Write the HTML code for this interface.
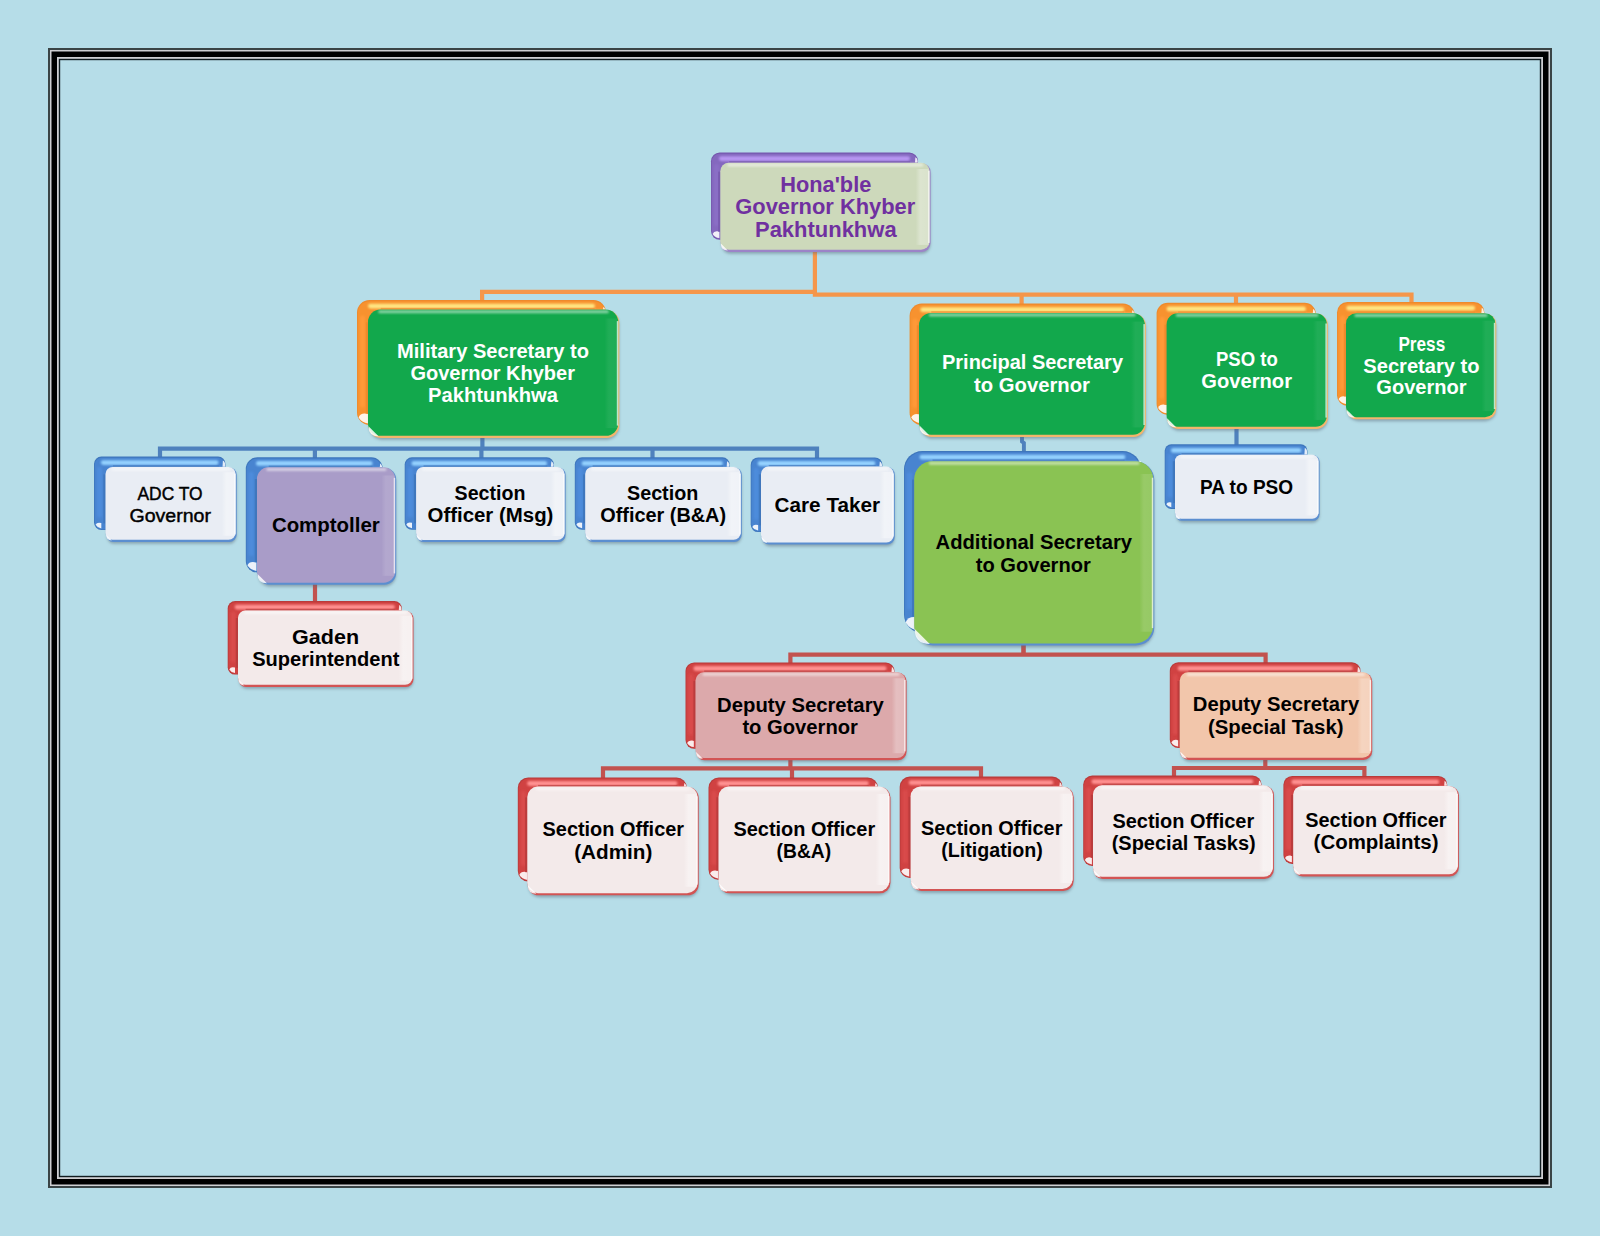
<!DOCTYPE html>
<html lang="en"><head><meta charset="utf-8"><title>Organogram - Governor Secretariat Khyber Pakhtunkhwa</title>
<style>html,body{margin:0;padding:0;background:#B6DDE8}body{width:1600px;height:1236px;overflow:hidden}svg{display:block}text{font-family:"Liberation Sans",sans-serif}</style></head><body>
<svg width="1600" height="1236" viewBox="0 0 1600 1236">
<defs>
<filter id="b1" x="-20%" y="-50%" width="140%" height="200%"><feGaussianBlur stdDeviation="0.8"/></filter>
<filter id="b2" x="-20%" y="-20%" width="140%" height="140%"><feGaussianBlur stdDeviation="1.6"/></filter>
<filter id="b3" x="-50%" y="-50%" width="200%" height="200%"><feGaussianBlur stdDeviation="0.6"/></filter>
<linearGradient id="rhi" x1="0" x2="1" y1="0" y2="0"><stop offset="0" stop-color="#fff" stop-opacity="0"/><stop offset="0.35" stop-color="#fff" stop-opacity="1"/><stop offset="1" stop-color="#fff" stop-opacity="0.85"/></linearGradient>
</defs>
<rect width="1600" height="1236" fill="#B6DDE8"/>
<rect x="48.0" y="48.0" width="1504.0" height="1140.0" fill="#3a4446"/>
<rect x="50.0" y="50.0" width="1500.0" height="1136.0" fill="#cfcfd2"/>
<rect x="51.5" y="51.5" width="1497.0" height="1133.0" fill="#000000"/>
<rect x="57.0" y="57.0" width="1486.0" height="1122.0" fill="#cfcfd2"/>
<rect x="58.8" y="58.8" width="1482.4" height="1118.4" fill="#101c20"/>
<rect x="60.2" y="60.2" width="1479.6" height="1115.6" fill="#B6DDE8"/>
<path d="M482.1 301.0 L482.1 291.8 L814.9 291.8" fill="none" stroke="#F5964A" stroke-width="4.2" stroke-linejoin="miter"/>
<path d="M814.9 250.0 L814.9 294.7 L1411.5 294.7 L1411.5 304.0" fill="none" stroke="#F5964A" stroke-width="4.2" stroke-linejoin="miter"/>
<path d="M1021.6 295.0 L1021.6 305.0" fill="none" stroke="#F5964A" stroke-width="4.2" stroke-linejoin="miter"/>
<path d="M1236.0 295.0 L1236.0 304.0" fill="none" stroke="#F5964A" stroke-width="4.2" stroke-linejoin="miter"/>
<path d="M482.4 436.0 L482.4 448.0" fill="none" stroke="#4F81BD" stroke-width="4.2" stroke-linejoin="miter"/>
<path d="M160.0 458.0 L160.0 448.6 L817.0 448.6 L817.0 458.0" fill="none" stroke="#4F81BD" stroke-width="4.2" stroke-linejoin="miter"/>
<path d="M314.9 448.0 L314.9 458.0" fill="none" stroke="#4F81BD" stroke-width="4.2" stroke-linejoin="miter"/>
<path d="M481.4 448.0 L481.4 458.0" fill="none" stroke="#4F81BD" stroke-width="4.2" stroke-linejoin="miter"/>
<path d="M652.5 448.0 L652.5 458.0" fill="none" stroke="#4F81BD" stroke-width="4.2" stroke-linejoin="miter"/>
<path d="M1022.0 435.0 L1022.0 441.5 L1023.9 443.0 L1023.9 452.0" fill="none" stroke="#4F81BD" stroke-width="3.9" stroke-linejoin="miter"/>
<path d="M1236.5 427.0 L1236.5 446.0" fill="none" stroke="#4F81BD" stroke-width="4.2" stroke-linejoin="miter"/>
<path d="M315.0 583.0 L315.0 602.0" fill="none" stroke="#C2524F" stroke-width="4.2" stroke-linejoin="miter"/>
<path d="M1023.5 644.0 L1023.5 654.6" fill="none" stroke="#C2524F" stroke-width="4.6" stroke-linejoin="miter"/>
<path d="M790.4 663.0 L790.4 654.6 L1265.6 654.6 L1265.6 663.0" fill="none" stroke="#C2524F" stroke-width="4.2" stroke-linejoin="miter"/>
<path d="M790.4 758.0 L790.4 768.0" fill="none" stroke="#C2524F" stroke-width="4.2" stroke-linejoin="miter"/>
<path d="M603.0 778.0 L603.0 768.4 L981.0 768.4 L981.0 778.0" fill="none" stroke="#C2524F" stroke-width="4.2" stroke-linejoin="miter"/>
<path d="M792.0 768.0 L792.0 778.0" fill="none" stroke="#C2524F" stroke-width="4.2" stroke-linejoin="miter"/>
<path d="M1265.3 758.0 L1265.3 768.0" fill="none" stroke="#C2524F" stroke-width="4.2" stroke-linejoin="miter"/>
<path d="M1174.0 777.0 L1174.0 768.0 L1364.4 768.0 L1364.4 777.0" fill="none" stroke="#C2524F" stroke-width="4.2" stroke-linejoin="miter"/>
<g>
<rect x="711.0" y="152.5" width="207.0" height="87.2" rx="8.7" fill="#7658AE"/>
<rect x="711.8" y="153.7" width="205.4" height="85.2" rx="8.2" fill="#8468BE"/>
<rect x="714.0" y="164.2" width="5" height="61.8" rx="2" fill="#8A6EC6" filter="url(#b1)"/>
<rect x="719.0" y="156.2" width="191.0" height="4.8" rx="2.4" fill="#B896F2" filter="url(#b1)"/>
<path d="M712.6 233.9 Q713.6 231.3 716.7 231.3 L719.4 231.6 L719.4 238.1 Q714.6 237.3 712.6 233.9 Z" fill="#fff" opacity="0.9" filter="url(#b3)"/>
<path d="M915.0 162.6 L917.6 162.6 L917.6 160.8 Q917.0 157.7 915.4 157.3 Z" fill="#fff" opacity="0.85" filter="url(#b3)"/>
<rect x="718.1" y="171.6" width="2.4" height="60.2" fill="#7658AE" opacity="0.8" filter="url(#b3)"/>
<rect x="729.1" y="161.1" width="181.0" height="1.8" fill="#7658AE" opacity="0.7" filter="url(#b3)"/>
<rect x="721.8" y="165.8" width="208.5" height="88.0" rx="8.8" fill="#5a6a78" opacity="0.5" filter="url(#b2)"/>
<rect x="720.7" y="163.2" width="209.9" height="88.7" rx="8.8" fill="#9C84C8"/>
<rect x="720.3" y="162.8" width="209.2" height="87.0" rx="8.5" fill="#CDD9BB"/>
<rect x="727.4" y="163.4" width="195.9" height="3" rx="1.5" fill="#fff" opacity="0.5" filter="url(#b1)"/>
<rect x="915.7" y="169.0" width="13" height="75.9" fill="url(#rhi)" opacity="0.30"/>
<rect x="928.1" y="170.7" width="1.5" height="72.3" fill="#fff" opacity="0.7" filter="url(#b3)"/>
<path d="M720.8 243.5 Q720.8 250.4 727.8 250.4 Z" fill="#fff" opacity="0.85" filter="url(#b3)"/>
<text x="780.3" y="191.5" font-size="22.0" font-weight="bold" fill="#7030A0" textLength="91.0" lengthAdjust="spacingAndGlyphs">Hona'ble</text>
<text x="735.3" y="214.1" font-size="22.0" font-weight="bold" fill="#7030A0" textLength="180.0" lengthAdjust="spacingAndGlyphs">Governor Khyber</text>
<text x="755.0" y="237.4" font-size="22.0" font-weight="bold" fill="#7030A0" textLength="141.6" lengthAdjust="spacingAndGlyphs">Pakhtunkhwa</text>
</g>
<g>
<rect x="357.0" y="300.0" width="249.0" height="125.0" rx="12.5" fill="#EE8A2C"/>
<rect x="357.8" y="301.2" width="247.4" height="123.0" rx="12.0" fill="#F7922F"/>
<rect x="360.0" y="315.5" width="5" height="92.0" rx="2" fill="#FF9A38" filter="url(#b1)"/>
<rect x="368.0" y="303.7" width="227.0" height="4.8" rx="2.4" fill="#FFE682" filter="url(#b1)"/>
<path d="M358.6 417.4 Q360.1 413.6 364.5 413.6 L368.4 414.1 L368.4 423.4 Q361.5 422.2 358.6 417.4 Z" fill="#fff" opacity="0.9" filter="url(#b3)"/>
<path d="M603.0 309.4 L605.6 309.4 L605.6 311.9 Q605.0 307.5 603.4 306.9 Z" fill="#fff" opacity="0.85" filter="url(#b3)"/>
<rect x="365.8" y="322.3" width="2.4" height="91.4" fill="#EE8A2C" opacity="0.8" filter="url(#b3)"/>
<rect x="380.7" y="307.9" width="214.0" height="1.8" fill="#EE8A2C" opacity="0.7" filter="url(#b3)"/>
<rect x="369.5" y="312.6" width="249.5" height="127.2" rx="12.7" fill="#5a6a78" opacity="0.5" filter="url(#b2)"/>
<rect x="368.4" y="310.0" width="250.9" height="127.9" rx="12.7" fill="#F3B56C"/>
<rect x="368.0" y="309.6" width="250.2" height="126.2" rx="12.4" fill="#12A84C"/>
<rect x="378.2" y="310.2" width="230.6" height="3" rx="1.5" fill="#fff" opacity="0.5" filter="url(#b1)"/>
<rect x="604.4" y="318.5" width="13" height="109.6" fill="url(#rhi)" opacity="0.06"/>
<rect x="616.8" y="321.1" width="1.5" height="104.5" fill="#fff" opacity="0.7" filter="url(#b3)"/>
<path d="M368.5 426.2 Q368.5 436.4 378.8 436.4 Z" fill="#fff" opacity="0.85" filter="url(#b3)"/>
<text x="397.0" y="358.0" font-size="20.3" font-weight="bold" fill="#fff" textLength="192.0" lengthAdjust="spacingAndGlyphs">Military Secretary to</text>
<text x="410.4" y="380.4" font-size="20.3" font-weight="bold" fill="#fff" textLength="164.6" lengthAdjust="spacingAndGlyphs">Governor Khyber</text>
<text x="428.0" y="402.4" font-size="20.3" font-weight="bold" fill="#fff" textLength="130.0" lengthAdjust="spacingAndGlyphs">Pakhtunkhwa</text>
</g>
<g>
<rect x="909.6" y="303.6" width="225.4" height="121.4" rx="12.1" fill="#EE8A2C"/>
<rect x="910.4" y="304.8" width="223.8" height="119.4" rx="11.6" fill="#F7922F"/>
<rect x="912.6" y="318.7" width="5" height="89.1" rx="2" fill="#FF9A38" filter="url(#b1)"/>
<rect x="920.3" y="307.3" width="204.0" height="4.8" rx="2.4" fill="#FFE682" filter="url(#b1)"/>
<path d="M911.2 417.5 Q912.6 413.9 916.9 413.9 L920.7 414.4 L920.7 423.4 Q914.0 422.3 911.2 417.5 Z" fill="#fff" opacity="0.9" filter="url(#b3)"/>
<path d="M1132.0 312.8 L1134.6 312.8 L1134.6 315.1 Q1134.0 310.9 1132.4 310.3 Z" fill="#fff" opacity="0.85" filter="url(#b3)"/>
<rect x="916.8" y="325.3" width="2.4" height="88.8" fill="#EE8A2C" opacity="0.8" filter="url(#b3)"/>
<rect x="931.3" y="311.3" width="192.8" height="1.8" fill="#EE8A2C" opacity="0.7" filter="url(#b3)"/>
<rect x="920.5" y="316.0" width="225.1" height="122.8" rx="12.3" fill="#5a6a78" opacity="0.5" filter="url(#b2)"/>
<rect x="919.4" y="313.4" width="226.5" height="123.5" rx="12.3" fill="#F3B56C"/>
<rect x="919.0" y="313.0" width="225.8" height="121.8" rx="12.0" fill="#12A84C"/>
<rect x="928.8" y="313.6" width="206.9" height="3" rx="1.5" fill="#fff" opacity="0.5" filter="url(#b1)"/>
<rect x="1131.0" y="321.6" width="13" height="105.8" fill="url(#rhi)" opacity="0.06"/>
<rect x="1143.4" y="324.1" width="1.5" height="100.9" fill="#fff" opacity="0.7" filter="url(#b3)"/>
<path d="M919.5 425.5 Q919.5 435.4 929.5 435.4 Z" fill="#fff" opacity="0.85" filter="url(#b3)"/>
<text x="942.0" y="369.4" font-size="20.3" font-weight="bold" fill="#fff" textLength="181.0" lengthAdjust="spacingAndGlyphs">Principal Secretary</text>
<text x="974.0" y="391.6" font-size="20.3" font-weight="bold" fill="#fff" textLength="116.0" lengthAdjust="spacingAndGlyphs">to Governor</text>
</g>
<g>
<rect x="1156.6" y="302.8" width="159.2" height="112.1" rx="11.2" fill="#EE8A2C"/>
<rect x="1157.4" y="304.0" width="157.6" height="110.1" rx="10.7" fill="#F7922F"/>
<rect x="1159.6" y="317.0" width="5" height="81.7" rx="2" fill="#FF9A38" filter="url(#b1)"/>
<rect x="1166.6" y="306.5" width="139.3" height="4.8" rx="2.4" fill="#FFE682" filter="url(#b1)"/>
<path d="M1158.2 407.9 Q1159.5 404.6 1163.4 404.6 L1166.9 405.0 L1166.9 413.3 Q1160.8 412.3 1158.2 407.9 Z" fill="#fff" opacity="0.9" filter="url(#b3)"/>
<path d="M1312.8 313.0 L1315.4 313.0 L1315.4 313.4 Q1314.8 309.5 1313.2 309.0 Z" fill="#fff" opacity="0.85" filter="url(#b3)"/>
<rect x="1164.4" y="324.7" width="2.4" height="80.1" fill="#EE8A2C" opacity="0.8" filter="url(#b3)"/>
<rect x="1178.1" y="311.5" width="127.6" height="1.8" fill="#EE8A2C" opacity="0.7" filter="url(#b3)"/>
<rect x="1168.1" y="316.2" width="159.5" height="114.6" rx="11.5" fill="#5a6a78" opacity="0.5" filter="url(#b2)"/>
<rect x="1167.0" y="313.6" width="160.9" height="115.3" rx="11.5" fill="#F3B56C"/>
<rect x="1166.6" y="313.2" width="160.2" height="113.6" rx="11.2" fill="#12A84C"/>
<rect x="1175.8" y="313.8" width="142.6" height="3" rx="1.5" fill="#fff" opacity="0.5" filter="url(#b1)"/>
<rect x="1313.0" y="321.2" width="13" height="98.7" fill="url(#rhi)" opacity="0.06"/>
<rect x="1325.4" y="323.5" width="1.5" height="94.1" fill="#fff" opacity="0.7" filter="url(#b3)"/>
<path d="M1167.1 418.2 Q1167.1 427.4 1176.4 427.4 Z" fill="#fff" opacity="0.85" filter="url(#b3)"/>
<text x="1216.0" y="365.5" font-size="20.3" font-weight="bold" fill="#fff" textLength="61.8" lengthAdjust="spacingAndGlyphs">PSO to</text>
<text x="1201.3" y="388.0" font-size="20.3" font-weight="bold" fill="#fff" textLength="90.7" lengthAdjust="spacingAndGlyphs">Governor</text>
</g>
<g>
<rect x="1337.0" y="302.0" width="147.4" height="103.9" rx="10.4" fill="#EE8A2C"/>
<rect x="1337.8" y="303.2" width="145.8" height="101.9" rx="9.9" fill="#F7922F"/>
<rect x="1340.0" y="315.4" width="5" height="75.1" rx="2" fill="#FF9A38" filter="url(#b1)"/>
<rect x="1346.3" y="305.7" width="128.8" height="4.8" rx="2.4" fill="#FFE682" filter="url(#b1)"/>
<path d="M1338.6 399.3 Q1339.8 396.2 1343.5 396.2 L1346.7 396.6 L1346.7 404.3 Q1341.0 403.3 1338.6 399.3 Z" fill="#fff" opacity="0.9" filter="url(#b3)"/>
<path d="M1481.4 313.1 L1484.0 313.1 L1484.0 311.9 Q1483.4 308.2 1481.8 307.7 Z" fill="#fff" opacity="0.85" filter="url(#b3)"/>
<rect x="1343.8" y="323.8" width="2.4" height="72.7" fill="#EE8A2C" opacity="0.8" filter="url(#b3)"/>
<rect x="1356.5" y="311.6" width="118.5" height="1.8" fill="#EE8A2C" opacity="0.7" filter="url(#b3)"/>
<rect x="1347.5" y="316.3" width="148.5" height="104.9" rx="10.5" fill="#5a6a78" opacity="0.5" filter="url(#b2)"/>
<rect x="1346.4" y="313.7" width="149.9" height="105.6" rx="10.5" fill="#F3B56C"/>
<rect x="1346.0" y="313.3" width="149.2" height="103.9" rx="10.2" fill="#12A84C"/>
<rect x="1354.4" y="313.9" width="133.2" height="3" rx="1.5" fill="#fff" opacity="0.5" filter="url(#b1)"/>
<rect x="1481.4" y="320.7" width="13" height="90.4" fill="url(#rhi)" opacity="0.06"/>
<rect x="1493.8" y="322.8" width="1.5" height="86.2" fill="#fff" opacity="0.7" filter="url(#b3)"/>
<path d="M1346.5 409.5 Q1346.5 417.8 1354.9 417.8 Z" fill="#fff" opacity="0.85" filter="url(#b3)"/>
<text x="1398.4" y="350.8" font-size="20.3" font-weight="bold" fill="#fff" textLength="46.8" lengthAdjust="spacingAndGlyphs">Press</text>
<text x="1363.3" y="372.6" font-size="20.3" font-weight="bold" fill="#fff" textLength="116.3" lengthAdjust="spacingAndGlyphs">Secretary to</text>
<text x="1376.3" y="394.2" font-size="20.3" font-weight="bold" fill="#fff" textLength="90.3" lengthAdjust="spacingAndGlyphs">Governor</text>
</g>
<g>
<rect x="1164.7" y="444.3" width="142.7" height="64.6" rx="6.5" fill="#3E76BC"/>
<rect x="1165.5" y="445.5" width="141.1" height="62.6" rx="6.0" fill="#4884D0"/>
<rect x="1167.7" y="453.8" width="5" height="43.7" rx="2" fill="#4E8CDC" filter="url(#b1)"/>
<rect x="1170.9" y="448.0" width="130.4" height="4.8" rx="2.4" fill="#94D2FF" filter="url(#b1)"/>
<path d="M1166.3 504.2 Q1167.1 502.3 1169.3 502.3 L1171.3 502.5 L1171.3 507.3 Q1167.8 506.7 1166.3 504.2 Z" fill="#fff" opacity="0.9" filter="url(#b3)"/>
<path d="M1304.4 454.5 L1307.0 454.5 L1307.0 450.4 Q1306.4 448.2 1304.8 447.9 Z" fill="#fff" opacity="0.85" filter="url(#b3)"/>
<rect x="1172.8" y="461.2" width="2.4" height="41.9" fill="#3E76BC" opacity="0.8" filter="url(#b3)"/>
<rect x="1181.5" y="453.0" width="120.1" height="1.8" fill="#3E76BC" opacity="0.7" filter="url(#b3)"/>
<rect x="1176.5" y="457.7" width="142.8" height="65.0" rx="6.5" fill="#5a6a78" opacity="0.5" filter="url(#b2)"/>
<rect x="1175.4" y="455.1" width="144.2" height="65.7" rx="6.5" fill="#5B8ED0"/>
<rect x="1175.0" y="454.7" width="143.5" height="64.0" rx="6.2" fill="#E9EDF4"/>
<rect x="1180.2" y="455.3" width="133.9" height="3" rx="1.5" fill="#fff" opacity="0.5" filter="url(#b1)"/>
<rect x="1304.7" y="459.3" width="13" height="56.1" fill="url(#rhi)" opacity="0.38"/>
<rect x="1317.1" y="460.6" width="1.5" height="53.5" fill="#fff" opacity="0.7" filter="url(#b3)"/>
<path d="M1175.5 514.4 Q1175.5 519.3 1180.5 519.3 Z" fill="#fff" opacity="0.85" filter="url(#b3)"/>
<text x="1199.9" y="493.7" font-size="20.3" font-weight="bold" fill="#000" textLength="93.3" lengthAdjust="spacingAndGlyphs">PA to PSO</text>
</g>
<g>
<rect x="94.0" y="456.5" width="131.5" height="73.5" rx="7.4" fill="#3E76BC"/>
<rect x="94.8" y="457.7" width="129.9" height="71.5" rx="6.9" fill="#4884D0"/>
<rect x="97.0" y="466.9" width="5" height="50.8" rx="2" fill="#4E8CDC" filter="url(#b1)"/>
<rect x="100.9" y="460.2" width="117.7" height="4.8" rx="2.4" fill="#94D2FF" filter="url(#b1)"/>
<path d="M95.6 524.8 Q96.5 522.7 99.0 522.7 L101.3 523.0 L101.3 528.4 Q97.3 527.7 95.6 524.8 Z" fill="#fff" opacity="0.9" filter="url(#b3)"/>
<path d="M222.5 466.8 L225.1 466.8 L225.1 463.5 Q224.5 460.9 222.9 460.5 Z" fill="#fff" opacity="0.85" filter="url(#b3)"/>
<rect x="103.3" y="474.4" width="2.4" height="49.0" fill="#3E76BC" opacity="0.8" filter="url(#b3)"/>
<rect x="112.9" y="465.3" width="106.0" height="1.8" fill="#3E76BC" opacity="0.7" filter="url(#b3)"/>
<rect x="107.0" y="470.0" width="129.4" height="73.8" rx="7.4" fill="#5a6a78" opacity="0.5" filter="url(#b2)"/>
<rect x="105.9" y="467.4" width="130.8" height="74.5" rx="7.4" fill="#5B8ED0"/>
<rect x="105.5" y="467.0" width="130.1" height="72.8" rx="7.1" fill="#E9EDF4"/>
<rect x="111.4" y="467.6" width="119.1" height="3" rx="1.5" fill="#fff" opacity="0.5" filter="url(#b1)"/>
<rect x="221.8" y="472.2" width="13" height="63.6" fill="url(#rhi)" opacity="0.38"/>
<rect x="234.2" y="473.7" width="1.5" height="60.7" fill="#fff" opacity="0.7" filter="url(#b3)"/>
<path d="M106.0 534.7 Q106.0 540.4 111.8 540.4 Z" fill="#fff" opacity="0.85" filter="url(#b3)"/>
<text x="137.5" y="500.0" font-size="18.9" font-weight="normal" fill="#000" stroke="#000" stroke-width="0.45" textLength="65.0" lengthAdjust="spacingAndGlyphs">ADC TO</text>
<text x="129.5" y="521.5" font-size="18.9" font-weight="normal" fill="#000" stroke="#000" stroke-width="0.45" textLength="81.5" lengthAdjust="spacingAndGlyphs">Governor</text>
</g>
<g>
<rect x="245.8" y="457.3" width="137.0" height="115.2" rx="11.5" fill="#3E76BC"/>
<rect x="246.6" y="458.5" width="135.4" height="113.2" rx="11.0" fill="#4884D0"/>
<rect x="248.8" y="471.8" width="5" height="84.2" rx="2" fill="#4E8CDC" filter="url(#b1)"/>
<rect x="256.0" y="461.0" width="116.6" height="4.8" rx="2.4" fill="#94D2FF" filter="url(#b1)"/>
<path d="M247.4 565.3 Q248.7 561.9 252.8 561.9 L256.4 562.4 L256.4 570.9 Q250.1 569.8 247.4 565.3 Z" fill="#fff" opacity="0.9" filter="url(#b3)"/>
<path d="M379.8 467.1 L382.4 467.1 L382.4 468.2 Q381.8 464.2 380.2 463.6 Z" fill="#fff" opacity="0.85" filter="url(#b3)"/>
<rect x="254.8" y="479.0" width="2.4" height="83.2" fill="#3E76BC" opacity="0.8" filter="url(#b3)"/>
<rect x="268.7" y="465.6" width="103.8" height="1.8" fill="#3E76BC" opacity="0.7" filter="url(#b3)"/>
<rect x="258.5" y="470.3" width="137.4" height="116.4" rx="11.7" fill="#5a6a78" opacity="0.5" filter="url(#b2)"/>
<rect x="257.4" y="467.7" width="138.8" height="117.1" rx="11.7" fill="#5B8ED0"/>
<rect x="257.0" y="467.3" width="138.1" height="115.4" rx="11.4" fill="#A99CC8"/>
<rect x="266.3" y="467.9" width="120.2" height="3" rx="1.5" fill="#fff" opacity="0.5" filter="url(#b1)"/>
<rect x="381.3" y="475.5" width="13" height="100.3" fill="url(#rhi)" opacity="0.12"/>
<rect x="393.7" y="477.8" width="1.5" height="95.6" fill="#fff" opacity="0.7" filter="url(#b3)"/>
<path d="M257.5 574.0 Q257.5 583.3 266.9 583.3 Z" fill="#fff" opacity="0.85" filter="url(#b3)"/>
<text x="271.9" y="532.1" font-size="20.3" font-weight="bold" fill="#000" textLength="107.8" lengthAdjust="spacingAndGlyphs">Comptoller</text>
</g>
<g>
<rect x="227.7" y="601.0" width="174.1" height="73.6" rx="7.4" fill="#B93B3B"/>
<rect x="228.5" y="602.2" width="172.5" height="71.6" rx="6.9" fill="#D04242"/>
<rect x="230.7" y="611.4" width="5" height="50.9" rx="2" fill="#D94B4B" filter="url(#b1)"/>
<rect x="234.6" y="604.7" width="160.3" height="4.8" rx="2.4" fill="#FF9090" filter="url(#b1)"/>
<path d="M229.3 669.4 Q230.2 667.3 232.7 667.3 L235.0 667.5 L235.0 673.0 Q231.0 672.3 229.3 669.4 Z" fill="#fff" opacity="0.9" filter="url(#b3)"/>
<path d="M398.8 610.3 L401.4 610.3 L401.4 608.0 Q400.8 605.4 399.2 605.0 Z" fill="#fff" opacity="0.85" filter="url(#b3)"/>
<rect x="235.8" y="618.0" width="2.4" height="49.9" fill="#B93B3B" opacity="0.8" filter="url(#b3)"/>
<rect x="245.6" y="608.8" width="149.6" height="1.8" fill="#B93B3B" opacity="0.7" filter="url(#b3)"/>
<rect x="239.5" y="613.5" width="173.7" height="75.3" rx="7.6" fill="#5a6a78" opacity="0.5" filter="url(#b2)"/>
<rect x="238.4" y="610.9" width="175.1" height="76.0" rx="7.6" fill="#D25454"/>
<rect x="238.0" y="610.5" width="174.4" height="74.3" rx="7.3" fill="#F3EAEA"/>
<rect x="244.0" y="611.1" width="163.1" height="3" rx="1.5" fill="#fff" opacity="0.5" filter="url(#b1)"/>
<rect x="398.6" y="615.8" width="13" height="64.9" fill="url(#rhi)" opacity="0.38"/>
<rect x="411.0" y="617.3" width="1.5" height="61.9" fill="#fff" opacity="0.7" filter="url(#b3)"/>
<path d="M238.5 679.6 Q238.5 685.4 244.4 685.4 Z" fill="#fff" opacity="0.85" filter="url(#b3)"/>
<text x="292.1" y="644.2" font-size="20.3" font-weight="bold" fill="#000" textLength="67.0" lengthAdjust="spacingAndGlyphs">Gaden</text>
<text x="252.2" y="666.3" font-size="20.3" font-weight="bold" fill="#000" textLength="147.2" lengthAdjust="spacingAndGlyphs">Superintendent</text>
</g>
<g>
<rect x="404.7" y="457.3" width="149.2" height="72.5" rx="7.2" fill="#3E76BC"/>
<rect x="405.5" y="458.5" width="147.6" height="70.5" rx="6.7" fill="#4884D0"/>
<rect x="407.7" y="467.6" width="5" height="50.0" rx="2" fill="#4E8CDC" filter="url(#b1)"/>
<rect x="411.5" y="461.0" width="135.6" height="4.8" rx="2.4" fill="#94D2FF" filter="url(#b1)"/>
<path d="M406.3 524.7 Q407.1 522.5 409.7 522.5 L412.0 522.8 L412.0 528.2 Q408.0 527.5 406.3 524.7 Z" fill="#fff" opacity="0.9" filter="url(#b3)"/>
<path d="M550.9 466.8 L553.5 466.8 L553.5 464.2 Q552.9 461.7 551.3 461.3 Z" fill="#fff" opacity="0.85" filter="url(#b3)"/>
<rect x="413.9" y="474.4" width="2.4" height="48.9" fill="#3E76BC" opacity="0.8" filter="url(#b3)"/>
<rect x="423.5" y="465.3" width="123.9" height="1.8" fill="#3E76BC" opacity="0.7" filter="url(#b3)"/>
<rect x="417.6" y="470.0" width="147.7" height="74.0" rx="7.4" fill="#5a6a78" opacity="0.5" filter="url(#b2)"/>
<rect x="416.5" y="467.4" width="149.1" height="74.7" rx="7.4" fill="#5B8ED0"/>
<rect x="416.1" y="467.0" width="148.4" height="73.0" rx="7.1" fill="#E9EDF4"/>
<rect x="422.0" y="467.6" width="137.3" height="3" rx="1.5" fill="#fff" opacity="0.5" filter="url(#b1)"/>
<rect x="550.7" y="472.2" width="13" height="63.8" fill="url(#rhi)" opacity="0.38"/>
<rect x="563.1" y="473.7" width="1.5" height="60.8" fill="#fff" opacity="0.7" filter="url(#b3)"/>
<path d="M416.6 534.9 Q416.6 540.6 422.4 540.6 Z" fill="#fff" opacity="0.85" filter="url(#b3)"/>
<text x="454.6" y="499.6" font-size="20.3" font-weight="bold" fill="#000" textLength="70.8" lengthAdjust="spacingAndGlyphs">Section</text>
<text x="427.5" y="522.2" font-size="20.3" font-weight="bold" fill="#000" textLength="125.9" lengthAdjust="spacingAndGlyphs">Officer (Msg)</text>
</g>
<g>
<rect x="574.8" y="457.3" width="154.9" height="72.5" rx="7.2" fill="#3E76BC"/>
<rect x="575.6" y="458.5" width="153.3" height="70.5" rx="6.7" fill="#4884D0"/>
<rect x="577.8" y="467.6" width="5" height="50.0" rx="2" fill="#4E8CDC" filter="url(#b1)"/>
<rect x="581.6" y="461.0" width="141.3" height="4.8" rx="2.4" fill="#94D2FF" filter="url(#b1)"/>
<path d="M576.4 524.7 Q577.2 522.5 579.8 522.5 L582.1 522.8 L582.1 528.2 Q578.1 527.5 576.4 524.7 Z" fill="#fff" opacity="0.9" filter="url(#b3)"/>
<path d="M726.7 466.8 L729.3 466.8 L729.3 464.2 Q728.7 461.7 727.1 461.3 Z" fill="#fff" opacity="0.85" filter="url(#b3)"/>
<rect x="583.0" y="474.4" width="2.4" height="48.9" fill="#3E76BC" opacity="0.8" filter="url(#b3)"/>
<rect x="592.6" y="465.3" width="130.6" height="1.8" fill="#3E76BC" opacity="0.7" filter="url(#b3)"/>
<rect x="586.7" y="470.0" width="154.8" height="73.8" rx="7.4" fill="#5a6a78" opacity="0.5" filter="url(#b2)"/>
<rect x="585.6" y="467.4" width="156.2" height="74.5" rx="7.4" fill="#5B8ED0"/>
<rect x="585.2" y="467.0" width="155.5" height="72.8" rx="7.1" fill="#E9EDF4"/>
<rect x="591.1" y="467.6" width="144.5" height="3" rx="1.5" fill="#fff" opacity="0.5" filter="url(#b1)"/>
<rect x="726.9" y="472.2" width="13" height="63.6" fill="url(#rhi)" opacity="0.38"/>
<rect x="739.3" y="473.7" width="1.5" height="60.7" fill="#fff" opacity="0.7" filter="url(#b3)"/>
<path d="M585.7 534.7 Q585.7 540.4 591.5 540.4 Z" fill="#fff" opacity="0.85" filter="url(#b3)"/>
<text x="627.0" y="499.6" font-size="20.3" font-weight="bold" fill="#000" textLength="71.3" lengthAdjust="spacingAndGlyphs">Section</text>
<text x="600.2" y="522.2" font-size="20.3" font-weight="bold" fill="#000" textLength="125.9" lengthAdjust="spacingAndGlyphs">Officer (B&amp;A)</text>
</g>
<g>
<rect x="750.7" y="457.4" width="131.7" height="74.7" rx="7.5" fill="#3E76BC"/>
<rect x="751.5" y="458.6" width="130.1" height="72.7" rx="7.0" fill="#4884D0"/>
<rect x="753.7" y="467.9" width="5" height="51.8" rx="2" fill="#4E8CDC" filter="url(#b1)"/>
<rect x="757.7" y="461.1" width="117.7" height="4.8" rx="2.4" fill="#94D2FF" filter="url(#b1)"/>
<path d="M752.3 526.9 Q753.2 524.7 755.8 524.7 L758.1 525.0 L758.1 530.5 Q754.0 529.8 752.3 526.9 Z" fill="#fff" opacity="0.9" filter="url(#b3)"/>
<path d="M879.4 466.4 L882.0 466.4 L882.0 464.5 Q881.4 461.9 879.8 461.5 Z" fill="#fff" opacity="0.85" filter="url(#b3)"/>
<rect x="758.8" y="474.3" width="2.4" height="51.1" fill="#3E76BC" opacity="0.8" filter="url(#b3)"/>
<rect x="768.7" y="464.9" width="107.0" height="1.8" fill="#3E76BC" opacity="0.7" filter="url(#b3)"/>
<rect x="762.5" y="469.6" width="132.0" height="76.8" rx="7.7" fill="#5a6a78" opacity="0.5" filter="url(#b2)"/>
<rect x="761.4" y="467.0" width="133.4" height="77.5" rx="7.7" fill="#5B8ED0"/>
<rect x="761.0" y="466.6" width="132.7" height="75.8" rx="7.4" fill="#E9EDF4"/>
<rect x="767.2" y="467.2" width="121.2" height="3" rx="1.5" fill="#fff" opacity="0.5" filter="url(#b1)"/>
<rect x="879.9" y="472.0" width="13" height="66.2" fill="url(#rhi)" opacity="0.38"/>
<rect x="892.3" y="473.5" width="1.5" height="63.1" fill="#fff" opacity="0.7" filter="url(#b3)"/>
<path d="M761.5 537.1 Q761.5 543.0 767.5 543.0 Z" fill="#fff" opacity="0.85" filter="url(#b3)"/>
<text x="774.6" y="512.0" font-size="20.3" font-weight="bold" fill="#000" textLength="105.5" lengthAdjust="spacingAndGlyphs">Care Taker</text>
</g>
<g>
<rect x="904.0" y="451.0" width="237.0" height="181.8" rx="18.2" fill="#3E76BC"/>
<rect x="904.8" y="452.2" width="235.4" height="179.8" rx="17.7" fill="#4884D0"/>
<rect x="907.0" y="472.2" width="5" height="137.4" rx="2" fill="#4E8CDC" filter="url(#b1)"/>
<rect x="919.5" y="454.7" width="205.9" height="4.8" rx="2.4" fill="#94D2FF" filter="url(#b1)"/>
<path d="M905.6 622.4 Q907.7 617.0 914.1 617.0 L919.8 617.7 L919.8 631.2 Q909.9 629.5 905.6 622.4 Z" fill="#fff" opacity="0.9" filter="url(#b3)"/>
<path d="M1138.0 461.0 L1140.6 461.0 L1140.6 468.3 Q1140.0 461.9 1138.4 461.0 Z" fill="#fff" opacity="0.85" filter="url(#b3)"/>
<rect x="912.0" y="479.5" width="2.4" height="136.9" fill="#3E76BC" opacity="0.8" filter="url(#b3)"/>
<rect x="932.5" y="459.5" width="192.1" height="1.8" fill="#3E76BC" opacity="0.7" filter="url(#b3)"/>
<rect x="915.7" y="464.2" width="238.3" height="183.2" rx="18.3" fill="#5a6a78" opacity="0.5" filter="url(#b2)"/>
<rect x="914.6" y="461.6" width="239.7" height="183.9" rx="18.3" fill="#5B8ED0"/>
<rect x="914.2" y="461.2" width="239.0" height="182.2" rx="18.0" fill="#8AC353"/>
<rect x="928.9" y="461.8" width="210.5" height="3" rx="1.5" fill="#fff" opacity="0.5" filter="url(#b1)"/>
<rect x="1139.4" y="474.0" width="13" height="157.7" fill="url(#rhi)" opacity="0.12"/>
<rect x="1151.8" y="477.7" width="1.5" height="150.4" fill="#fff" opacity="0.7" filter="url(#b3)"/>
<path d="M914.7 629.0 Q914.7 644.0 929.8 644.0 Z" fill="#fff" opacity="0.85" filter="url(#b3)"/>
<text x="935.6" y="548.8" font-size="20.3" font-weight="bold" fill="#000" textLength="196.4" lengthAdjust="spacingAndGlyphs">Additional Secretary</text>
<text x="975.8" y="571.5" font-size="20.3" font-weight="bold" fill="#000" textLength="115.0" lengthAdjust="spacingAndGlyphs">to Governor</text>
</g>
<g>
<rect x="685.5" y="662.4" width="209.0" height="86.3" rx="8.6" fill="#B93B3B"/>
<rect x="686.3" y="663.6" width="207.4" height="84.3" rx="8.1" fill="#D04242"/>
<rect x="688.5" y="674.0" width="5" height="61.0" rx="2" fill="#D94B4B" filter="url(#b1)"/>
<rect x="693.4" y="666.1" width="193.2" height="4.8" rx="2.4" fill="#FF9090" filter="url(#b1)"/>
<path d="M687.1 742.9 Q688.1 740.4 691.1 740.4 L693.8 740.7 L693.8 747.1 Q689.1 746.3 687.1 742.9 Z" fill="#fff" opacity="0.9" filter="url(#b3)"/>
<path d="M891.5 672.0 L894.1 672.0 L894.1 670.6 Q893.5 667.6 891.9 667.1 Z" fill="#fff" opacity="0.85" filter="url(#b3)"/>
<rect x="693.3" y="680.9" width="2.4" height="60.0" fill="#B93B3B" opacity="0.8" filter="url(#b3)"/>
<rect x="704.2" y="670.5" width="182.5" height="1.8" fill="#B93B3B" opacity="0.7" filter="url(#b3)"/>
<rect x="697.0" y="675.2" width="209.3" height="86.9" rx="8.7" fill="#5a6a78" opacity="0.5" filter="url(#b2)"/>
<rect x="695.9" y="672.6" width="210.7" height="87.6" rx="8.7" fill="#D25454"/>
<rect x="695.5" y="672.2" width="210.0" height="85.9" rx="8.4" fill="#DCA9AB"/>
<rect x="702.5" y="672.8" width="196.9" height="3" rx="1.5" fill="#fff" opacity="0.5" filter="url(#b1)"/>
<rect x="891.7" y="678.3" width="13" height="74.9" fill="url(#rhi)" opacity="0.25"/>
<rect x="904.1" y="680.0" width="1.5" height="71.4" fill="#fff" opacity="0.7" filter="url(#b3)"/>
<path d="M696.0 751.9 Q696.0 758.7 702.9 758.7 Z" fill="#fff" opacity="0.85" filter="url(#b3)"/>
<text x="717.1" y="711.9" font-size="20.3" font-weight="bold" fill="#000" textLength="166.7" lengthAdjust="spacingAndGlyphs">Deputy Secretary</text>
<text x="742.4" y="734.3" font-size="20.3" font-weight="bold" fill="#000" textLength="115.6" lengthAdjust="spacingAndGlyphs">to Governor</text>
</g>
<g>
<rect x="1169.8" y="662.3" width="190.7" height="85.8" rx="8.6" fill="#B93B3B"/>
<rect x="1170.6" y="663.5" width="189.1" height="83.8" rx="8.1" fill="#D04242"/>
<rect x="1172.8" y="673.9" width="5" height="60.6" rx="2" fill="#D94B4B" filter="url(#b1)"/>
<rect x="1177.7" y="666.0" width="175.0" height="4.8" rx="2.4" fill="#FF9090" filter="url(#b1)"/>
<path d="M1171.4 742.4 Q1172.4 739.8 1175.4 739.8 L1178.1 740.1 L1178.1 746.5 Q1173.4 745.7 1171.4 742.4 Z" fill="#fff" opacity="0.9" filter="url(#b3)"/>
<path d="M1357.5 672.1 L1360.1 672.1 L1360.1 670.5 Q1359.5 667.4 1357.9 667.0 Z" fill="#fff" opacity="0.85" filter="url(#b3)"/>
<rect x="1177.5" y="681.0" width="2.4" height="59.4" fill="#B93B3B" opacity="0.8" filter="url(#b3)"/>
<rect x="1188.4" y="670.6" width="164.4" height="1.8" fill="#B93B3B" opacity="0.7" filter="url(#b3)"/>
<rect x="1181.2" y="675.3" width="190.7" height="86.5" rx="8.7" fill="#5a6a78" opacity="0.5" filter="url(#b2)"/>
<rect x="1180.1" y="672.7" width="192.1" height="87.2" rx="8.7" fill="#D25454"/>
<rect x="1179.7" y="672.3" width="191.4" height="85.5" rx="8.4" fill="#F2C6AB"/>
<rect x="1186.6" y="672.9" width="178.3" height="3" rx="1.5" fill="#fff" opacity="0.5" filter="url(#b1)"/>
<rect x="1357.3" y="678.4" width="13" height="74.6" fill="url(#rhi)" opacity="0.25"/>
<rect x="1369.7" y="680.1" width="1.5" height="71.1" fill="#fff" opacity="0.7" filter="url(#b3)"/>
<path d="M1180.2 751.6 Q1180.2 758.4 1187.1 758.4 Z" fill="#fff" opacity="0.85" filter="url(#b3)"/>
<text x="1192.8" y="711.0" font-size="20.3" font-weight="bold" fill="#000" textLength="166.4" lengthAdjust="spacingAndGlyphs">Deputy Secretary</text>
<text x="1208.0" y="733.5" font-size="20.3" font-weight="bold" fill="#000" textLength="135.5" lengthAdjust="spacingAndGlyphs">(Special Task)</text>
</g>
<g>
<rect x="517.8" y="777.4" width="169.1" height="104.1" rx="10.4" fill="#B93B3B"/>
<rect x="518.6" y="778.6" width="167.5" height="102.1" rx="9.9" fill="#D04242"/>
<rect x="520.8" y="790.8" width="5" height="75.3" rx="2" fill="#D94B4B" filter="url(#b1)"/>
<rect x="527.1" y="781.1" width="150.4" height="4.8" rx="2.4" fill="#FF9090" filter="url(#b1)"/>
<path d="M519.4 874.9 Q520.6 871.8 524.3 871.8 L527.5 872.2 L527.5 879.9 Q521.8 878.9 519.4 874.9 Z" fill="#fff" opacity="0.9" filter="url(#b3)"/>
<path d="M683.9 786.4 L686.5 786.4 L686.5 787.3 Q685.9 783.6 684.3 783.1 Z" fill="#fff" opacity="0.85" filter="url(#b3)"/>
<rect x="525.1" y="797.4" width="2.4" height="74.8" fill="#B93B3B" opacity="0.8" filter="url(#b3)"/>
<rect x="538.1" y="784.9" width="139.5" height="1.8" fill="#B93B3B" opacity="0.7" filter="url(#b3)"/>
<rect x="528.8" y="789.6" width="169.6" height="107.6" rx="10.8" fill="#5a6a78" opacity="0.5" filter="url(#b2)"/>
<rect x="527.7" y="787.0" width="171.0" height="108.3" rx="10.8" fill="#D25454"/>
<rect x="527.3" y="786.6" width="170.3" height="106.6" rx="10.5" fill="#F3EAEA"/>
<rect x="535.9" y="787.2" width="153.9" height="3" rx="1.5" fill="#fff" opacity="0.5" filter="url(#b1)"/>
<rect x="683.8" y="794.1" width="13" height="92.7" fill="url(#rhi)" opacity="0.38"/>
<rect x="696.2" y="796.3" width="1.5" height="88.4" fill="#fff" opacity="0.7" filter="url(#b3)"/>
<path d="M527.8 885.2 Q527.8 893.8 536.5 893.8 Z" fill="#fff" opacity="0.85" filter="url(#b3)"/>
<text x="542.6" y="836.4" font-size="20.3" font-weight="bold" fill="#000" textLength="141.4" lengthAdjust="spacingAndGlyphs">Section Officer</text>
<text x="574.2" y="858.5" font-size="20.3" font-weight="bold" fill="#000" textLength="78.2" lengthAdjust="spacingAndGlyphs">(Admin)</text>
</g>
<g>
<rect x="708.5" y="777.4" width="169.5" height="102.6" rx="10.3" fill="#B93B3B"/>
<rect x="709.3" y="778.6" width="167.9" height="100.6" rx="9.8" fill="#D04242"/>
<rect x="711.5" y="790.7" width="5" height="74.1" rx="2" fill="#D94B4B" filter="url(#b1)"/>
<rect x="717.7" y="781.1" width="151.1" height="4.8" rx="2.4" fill="#FF9090" filter="url(#b1)"/>
<path d="M710.1 873.4 Q711.3 870.4 714.9 870.4 L718.1 870.8 L718.1 878.4 Q712.5 877.4 710.1 873.4 Z" fill="#fff" opacity="0.9" filter="url(#b3)"/>
<path d="M875.0 786.4 L877.6 786.4 L877.6 787.1 Q877.0 783.6 875.4 783.0 Z" fill="#fff" opacity="0.85" filter="url(#b3)"/>
<rect x="716.3" y="797.2" width="2.4" height="73.6" fill="#B93B3B" opacity="0.8" filter="url(#b3)"/>
<rect x="729.1" y="784.9" width="139.7" height="1.8" fill="#B93B3B" opacity="0.7" filter="url(#b3)"/>
<rect x="720.0" y="789.6" width="170.2" height="105.6" rx="10.6" fill="#5a6a78" opacity="0.5" filter="url(#b2)"/>
<rect x="718.9" y="787.0" width="171.6" height="106.3" rx="10.6" fill="#D25454"/>
<rect x="718.5" y="786.6" width="170.9" height="104.6" rx="10.3" fill="#F3EAEA"/>
<rect x="727.0" y="787.2" width="154.8" height="3" rx="1.5" fill="#fff" opacity="0.5" filter="url(#b1)"/>
<rect x="875.6" y="794.0" width="13" height="91.0" fill="url(#rhi)" opacity="0.38"/>
<rect x="888.0" y="796.1" width="1.5" height="86.8" fill="#fff" opacity="0.7" filter="url(#b3)"/>
<path d="M719.0 883.4 Q719.0 891.8 727.5 891.8 Z" fill="#fff" opacity="0.85" filter="url(#b3)"/>
<text x="733.5" y="835.5" font-size="20.3" font-weight="bold" fill="#000" textLength="141.7" lengthAdjust="spacingAndGlyphs">Section Officer</text>
<text x="776.6" y="857.9" font-size="20.3" font-weight="bold" fill="#000" textLength="54.6" lengthAdjust="spacingAndGlyphs">(B&amp;A)</text>
</g>
<g>
<rect x="899.7" y="776.6" width="162.7" height="101.5" rx="10.2" fill="#B93B3B"/>
<rect x="900.5" y="777.8" width="161.1" height="99.5" rx="9.7" fill="#D04242"/>
<rect x="902.7" y="789.8" width="5" height="73.2" rx="2" fill="#D94B4B" filter="url(#b1)"/>
<rect x="908.8" y="780.3" width="144.5" height="4.8" rx="2.4" fill="#FF9090" filter="url(#b1)"/>
<path d="M901.3 871.6 Q902.5 868.6 906.1 868.6 L909.2 869.0 L909.2 876.5 Q903.7 875.5 901.3 871.6 Z" fill="#fff" opacity="0.9" filter="url(#b3)"/>
<path d="M1059.4 786.2 L1062.0 786.2 L1062.0 786.2 Q1061.4 782.7 1059.8 782.2 Z" fill="#fff" opacity="0.85" filter="url(#b3)"/>
<rect x="908.4" y="796.8" width="2.4" height="72.2" fill="#B93B3B" opacity="0.8" filter="url(#b3)"/>
<rect x="921.0" y="784.7" width="132.3" height="1.8" fill="#B93B3B" opacity="0.7" filter="url(#b3)"/>
<rect x="912.1" y="789.4" width="161.3" height="103.6" rx="10.4" fill="#5a6a78" opacity="0.5" filter="url(#b2)"/>
<rect x="911.0" y="786.8" width="162.7" height="104.3" rx="10.4" fill="#D25454"/>
<rect x="910.6" y="786.4" width="162.0" height="102.6" rx="10.1" fill="#F3EAEA"/>
<rect x="918.9" y="787.0" width="146.2" height="3" rx="1.5" fill="#fff" opacity="0.5" filter="url(#b1)"/>
<rect x="1058.8" y="793.7" width="13" height="89.3" fill="url(#rhi)" opacity="0.38"/>
<rect x="1071.2" y="795.7" width="1.5" height="85.1" fill="#fff" opacity="0.7" filter="url(#b3)"/>
<path d="M911.1 881.4 Q911.1 889.6 919.4 889.6 Z" fill="#fff" opacity="0.85" filter="url(#b3)"/>
<text x="921.1" y="834.5" font-size="20.3" font-weight="bold" fill="#000" textLength="141.3" lengthAdjust="spacingAndGlyphs">Section Officer</text>
<text x="941.2" y="856.7" font-size="20.3" font-weight="bold" fill="#000" textLength="101.6" lengthAdjust="spacingAndGlyphs">(Litigation)</text>
</g>
<g>
<rect x="1083.2" y="775.5" width="178.4" height="90.5" rx="9.1" fill="#B93B3B"/>
<rect x="1084.0" y="776.7" width="176.8" height="88.5" rx="8.6" fill="#D04242"/>
<rect x="1086.2" y="787.5" width="5" height="64.4" rx="2" fill="#D94B4B" filter="url(#b1)"/>
<rect x="1091.4" y="779.2" width="161.9" height="4.8" rx="2.4" fill="#FF9090" filter="url(#b1)"/>
<path d="M1084.8 860.0 Q1085.9 857.3 1089.0 857.3 L1091.9 857.7 L1091.9 864.4 Q1086.9 863.6 1084.8 860.0 Z" fill="#fff" opacity="0.9" filter="url(#b3)"/>
<path d="M1258.6 785.1 L1261.2 785.1 L1261.2 784.1 Q1260.6 780.9 1259.0 780.5 Z" fill="#fff" opacity="0.85" filter="url(#b3)"/>
<rect x="1090.8" y="794.6" width="2.4" height="63.3" fill="#B93B3B" opacity="0.8" filter="url(#b3)"/>
<rect x="1102.3" y="783.6" width="151.2" height="1.8" fill="#B93B3B" opacity="0.7" filter="url(#b3)"/>
<rect x="1094.5" y="788.3" width="179.1" height="92.5" rx="9.3" fill="#5a6a78" opacity="0.5" filter="url(#b2)"/>
<rect x="1093.4" y="785.7" width="180.5" height="93.2" rx="9.3" fill="#D25454"/>
<rect x="1093.0" y="785.3" width="179.8" height="91.5" rx="9.0" fill="#F3EAEA"/>
<rect x="1100.4" y="785.9" width="165.8" height="3" rx="1.5" fill="#fff" opacity="0.5" filter="url(#b1)"/>
<rect x="1259.0" y="791.8" width="13" height="79.7" fill="url(#rhi)" opacity="0.38"/>
<rect x="1271.4" y="793.6" width="1.5" height="76.0" fill="#fff" opacity="0.7" filter="url(#b3)"/>
<path d="M1093.5 870.1 Q1093.5 877.4 1100.9 877.4 Z" fill="#fff" opacity="0.85" filter="url(#b3)"/>
<text x="1112.5" y="827.5" font-size="20.3" font-weight="bold" fill="#000" textLength="141.7" lengthAdjust="spacingAndGlyphs">Section Officer</text>
<text x="1111.7" y="850.0" font-size="20.3" font-weight="bold" fill="#000" textLength="144.0" lengthAdjust="spacingAndGlyphs">(Special Tasks)</text>
</g>
<g>
<rect x="1283.4" y="775.9" width="163.8" height="88.0" rx="8.8" fill="#B93B3B"/>
<rect x="1284.2" y="777.1" width="162.2" height="86.0" rx="8.3" fill="#D04242"/>
<rect x="1286.4" y="787.7" width="5" height="62.4" rx="2" fill="#D94B4B" filter="url(#b1)"/>
<rect x="1291.4" y="779.6" width="147.7" height="4.8" rx="2.4" fill="#FF9090" filter="url(#b1)"/>
<path d="M1285.0 858.0 Q1286.0 855.4 1289.1 855.4 L1291.9 855.8 L1291.9 862.3 Q1287.1 861.5 1285.0 858.0 Z" fill="#fff" opacity="0.9" filter="url(#b3)"/>
<path d="M1444.2 785.7 L1446.8 785.7 L1446.8 784.3 Q1446.2 781.2 1444.6 780.7 Z" fill="#fff" opacity="0.85" filter="url(#b3)"/>
<rect x="1291.0" y="794.9" width="2.4" height="61.1" fill="#B93B3B" opacity="0.8" filter="url(#b3)"/>
<rect x="1302.2" y="784.2" width="137.1" height="1.8" fill="#B93B3B" opacity="0.7" filter="url(#b3)"/>
<rect x="1294.7" y="788.9" width="163.9" height="89.4" rx="9.0" fill="#5a6a78" opacity="0.5" filter="url(#b2)"/>
<rect x="1293.6" y="786.3" width="165.3" height="90.1" rx="9.0" fill="#D25454"/>
<rect x="1293.2" y="785.9" width="164.6" height="88.4" rx="8.7" fill="#F3EAEA"/>
<rect x="1300.4" y="786.5" width="151.1" height="3" rx="1.5" fill="#fff" opacity="0.5" filter="url(#b1)"/>
<rect x="1444.0" y="792.2" width="13" height="77.1" fill="url(#rhi)" opacity="0.38"/>
<rect x="1456.4" y="794.0" width="1.5" height="73.5" fill="#fff" opacity="0.7" filter="url(#b3)"/>
<path d="M1293.7 867.9 Q1293.7 874.9 1300.8 874.9 Z" fill="#fff" opacity="0.85" filter="url(#b3)"/>
<text x="1305.3" y="826.8" font-size="20.3" font-weight="bold" fill="#000" textLength="141.3" lengthAdjust="spacingAndGlyphs">Section Officer</text>
<text x="1313.6" y="849.0" font-size="20.3" font-weight="bold" fill="#000" textLength="124.9" lengthAdjust="spacingAndGlyphs">(Complaints)</text>
</g>
</svg></body></html>
